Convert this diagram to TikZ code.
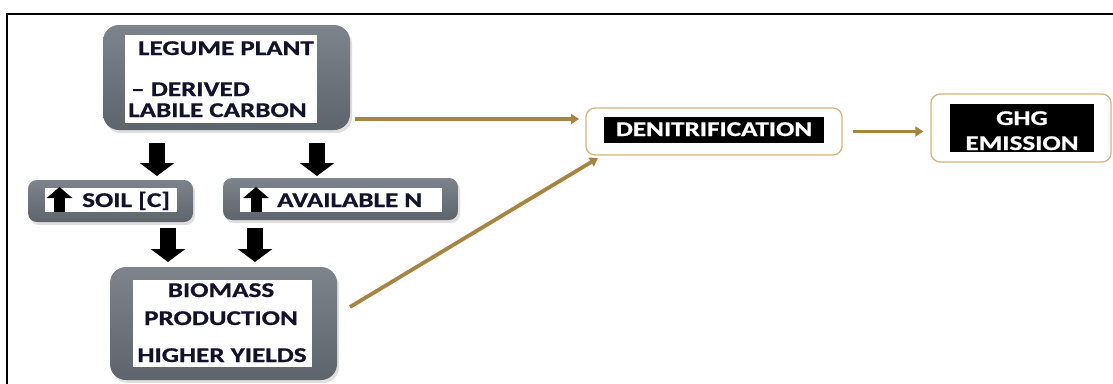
\documentclass[tikz,border=0pt]{standalone}
\usepackage{fontspec}
\setmainfont{Carlito}
\newfontfamily\hv{Carlito}[BoldFeatures={FakeBold=0.7}]
\usepackage{graphicx}
\usetikzlibrary{arrows.meta,shadows,calc}
\definecolor{tanc}{RGB}{168,132,66}
\definecolor{tanlight}{RGB}{212,180,125}
\definecolor{gtop}{RGB}{126,132,140}
\definecolor{gbot}{RGB}{94,100,108}
\definecolor{ink}{RGB}{18,18,45}
\newcommand\ws[1]{\scalebox{1.29}[1]{#1}}
\tikzset{
 graybox/.style={rounded corners=16pt, top color=gtop, bottom color=gbot, draw=none, inner sep=0pt,
   drop shadow={opacity=0.25, shadow xshift=2pt, shadow yshift=-3pt}},
 whitebox/.style={fill=white, draw=none, inner sep=0pt},
 blackbox/.style={fill=black, draw=none, inner sep=0pt},
 tanbox/.style={draw=tanlight, line width=1.3pt, rounded corners=9pt, fill=white, inner sep=0pt},
 txt/.style={inner sep=0pt, text=ink, font=\fontsize{21}{24}\hv\bfseries},
 wtxt/.style={inner sep=0pt, text=white, font=\fontsize{21}{24}\hv\bfseries},
 tanarrow/.style={draw=tanc, line width=3.8pt, -{Triangle[width=10pt,length=8pt]}},
 blockdown/.style={draw=black, line width=16pt, -{Triangle[width=34pt,length=13pt]}},
 blockup/.style={draw=black, line width=11pt, -{Triangle[width=25pt,length=11pt]}},
}
\begin{document}
\begin{tikzpicture}[x=1pt,y=-1pt]
\useasboundingbox (0,0) rectangle (1113,383);
\clip (0,0) rectangle (1113,383);
\fill[white] (0,0) rectangle (1113,383);
\draw[line width=2pt] (7,420) -- (7,14) -- (1200,14);

% legume
\node[graybox, minimum width=247pt, minimum height=105pt] (legume) at (226.5,77.5) {};
\node[whitebox, minimum width=192pt, minimum height=88pt] (legumein) at (221,79) {};
\node[txt, anchor=base] (t1) at (226,55) {\ws{LEGUME PLANT}};
\node[txt, anchor=base west] (t2) at (131,96) {\ws{– DERIVED}};
\node[txt, anchor=base west] (t3) at (128,117) {\ws{LABILE CARBON}};

% soil
\node[graybox, rounded corners=9pt, minimum width=165pt, minimum height=42pt] (soil) at (110.5,201) {};
\node[whitebox, minimum width=132pt, minimum height=24pt] (soilin) at (111,200) {};
\node[txt, anchor=base west] (t4) at (82,207) {\ws{SOIL [C]}};
\coordinate (su1) at (59.5,212);
\coordinate (su2) at (59.5,187);
\draw[blockup] (su1) -- (su2);

% available N
\node[graybox, rounded corners=9pt, minimum width=235pt, minimum height=42pt] (avn) at (340.5,199) {};
\node[whitebox, minimum width=202pt, minimum height=24pt] (avnin) at (341,200) {};
\node[txt, anchor=base west] (t5) at (277,207) {\ws{AVAILABLE N}};
\coordinate (au1) at (256,212);
\coordinate (au2) at (256,187);
\draw[blockup] (au1) -- (au2);

% biomass
\node[graybox, minimum width=227pt, minimum height=113pt] (bio) at (223.5,323.5) {};
\node[whitebox, minimum width=179pt, minimum height=87pt] (bioin) at (222.5,323.5) {};
\node[txt, anchor=base] (t6) at (221,297) {\ws{BIOMASS}};
\node[txt, anchor=base] (t7) at (221,325) {\ws{PRODUCTION}};
\node[txt, anchor=base] (t8) at (222,362) {\ws{HIGHER YIELDS}};

% denitrification
\node[tanbox, minimum width=256pt, minimum height=47pt] (denit) at (714,131.5) {};
\node[blackbox, minimum width=220pt, minimum height=26pt] (denitin) at (714,130) {};
\node[wtxt, anchor=base] (t9) at (714,136) {\ws{DENITRIFICATION}};

% GHG
\node[tanbox, minimum width=180pt, minimum height=68pt] (ghg) at (1021,128) {};
\node[blackbox, minimum width=144pt, minimum height=48pt] (ghgin) at (1022,128) {};
\node[wtxt, anchor=base] (t10) at (1022,125) {\ws{GHG}};
\node[wtxt, anchor=base] (t11) at (1022,150) {\ws{EMISSION}};

% black block arrows
\coordinate (d1s) at (157,143); \coordinate (d1e) at (157,176);
\coordinate (d2s) at (317,143); \coordinate (d2e) at (317,176);
\coordinate (d3s) at (168,228); \coordinate (d3e) at (168,262);
\coordinate (d4s) at (255,228); \coordinate (d4e) at (255,262);
\draw[blockdown] (d1s) -- (d1e);
\draw[blockdown] (d2s) -- (d2e);
\draw[blockdown] (d3s) -- (d3e);
\draw[blockdown] (d4s) -- (d4e);

% tan arrows
\coordinate (a1s) at (355,119); \coordinate (a1e) at (579,119);
\coordinate (a2s) at (350,307); \coordinate (a2e) at (598,158);
\draw[tanarrow] (a1s) -- (a1e);
\draw[tanarrow] (a2s) -- (a2e);
\draw[tanarrow] ([xshift=10pt]denit.east) -- ([xshift=-7pt]denit.east -| ghg.west);
\end{tikzpicture}
\end{document}
